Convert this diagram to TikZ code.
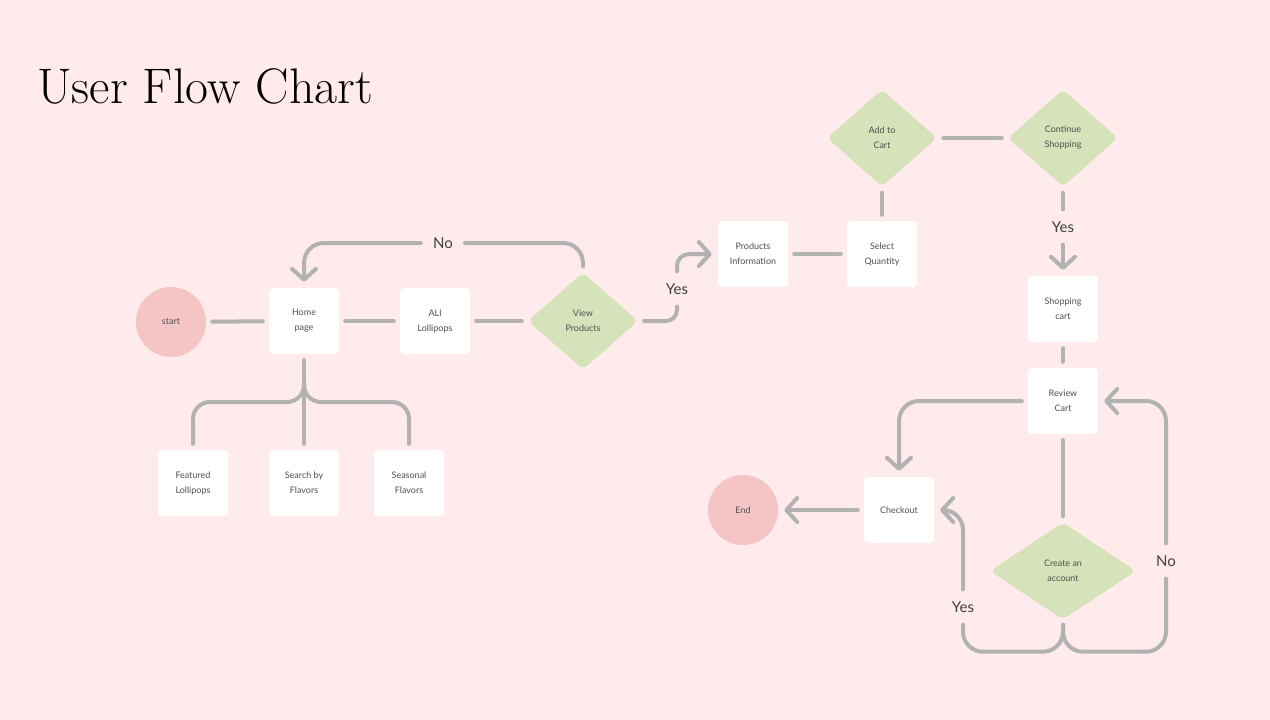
\documentclass[tikz,border=0pt]{standalone}
\usepackage{fontspec}
\setsansfont{Lato}
\usetikzlibrary{arrows.meta,shapes.geometric}
\definecolor{bg}{RGB}{255,235,235}
\definecolor{pinkc}{RGB}{245,196,196}
\definecolor{greenc}{RGB}{214,226,185}
\definecolor{lg}{RGB}{178,178,178}
\definecolor{txt}{RGB}{80,80,80}
\begin{document}
\begin{tikzpicture}[x=1pt,y=-1pt,
  every node/.style={font=\sffamily\fontsize{9}{15}\selectfont, text=txt, align=center},
  box/.style={rectangle, fill=white, rounded corners=4pt, minimum width=70pt, minimum height=66pt, inner sep=0pt},
  circ/.style={circle, fill=pinkc, minimum size=70pt, inner sep=0pt},
  dia/.style={diamond, fill=greenc, rounded corners=6pt, minimum width=110pt, minimum height=97pt, inner sep=0pt},
  lbl/.style={font=\sffamily\fontsize{15}{18}\selectfont, text=black!75, inner sep=6pt},
  conn/.style={draw=lg, line width=4pt, line cap=round, shorten <=6pt, shorten >=6pt},
  arr/.style={conn, -{Straight Barb[length=11pt,width=24pt,round]}}]
\useasboundingbox (0,0) rectangle (1270,720);
\fill[bg] (0,0) rectangle (1270,720);

\node[anchor=base west, inner sep=0pt, font=\rmfamily\fontsize{50}{52}\selectfont, text=black] (title) at (37,103) {User Flow Chart};

% nodes
\node[circ] (start) at (171,322) {start};
\node[box] (home) at (304,321) {Home\\page};
\node[box] (all) at (435,321) {ALl\\Lollipops};
\node[dia] (view) at (583,321) {View\\Products};
\node[box] (feat) at (193,483) {Featured\\Lollipops};
\node[box] (srch) at (304,483) {Search by\\Flavors};
\node[box] (seas) at (409,483) {Seasonal\\Flavors};
\node[box] (pi) at (753,254) {Products\\Information};
\node[box] (qty) at (882,254) {Select\\Quantity};
\node[dia] (add) at (882,138) {Add to\\Cart};
\node[dia] (cont) at (1063,138) {Continue\\Shopping};
\node[box] (shop) at (1063,309) {Shopping\\cart};
\node[box] (rev) at (1063,401) {Review\\Cart};
\node[box] (chk) at (899,510) {Checkout};
\node[circ] (end) at (743,510) {End};
\node[dia, minimum width=146pt] (acc) at (1063,571) {Create an\\account};

% labels
\node[lbl] (no1) at (443,243) {No};
\node[lbl] (yes1) at (677,289) {Yes};
\node[lbl] (yes2) at (1063,227) {Yes};
\node[lbl] (yes3) at (963,607) {Yes};
\node[lbl] (no3) at (1166,561) {No};
\coordinate (hb) at (304,383);

% connectors
\draw[conn] (start) -- (home);
\draw[conn] (home) -- (all);
\draw[conn] (all) -- (view);
\draw[conn, rounded corners=20pt] (view.north) |- (no1.east);
\draw[arr, rounded corners=20pt] (no1.west) -| (home.north);
\draw[conn] (home.south) -- (srch.north);
\draw[conn, rounded corners=17pt, shorten <=0pt] (hb) |- ++(-40,19) -| (feat.north);
\draw[conn, rounded corners=17pt, shorten <=0pt] (hb) |- ++(40,19) -| (seas.north);
\draw[conn, rounded corners=11pt] (view.east) -| (yes1.south);
\draw[arr, rounded corners=12pt] (yes1.north) |- (pi.west);
\draw[conn] (pi) -- (qty);
\draw[conn] (qty.north) -- (add.south);
\draw[conn] (add) -- (cont);
\draw[conn] (cont.south) -- (yes2.north);
\draw[arr] (yes2.south) -- (shop.north);
\draw[conn] (shop.south) -- (rev.north);
\draw[arr, rounded corners=20pt] (rev.west) -| (chk.north);
\draw[arr] (chk.west) -- (end.east);
\draw[conn] (rev.south) -- (acc.north);
\draw[conn, rounded corners=20pt, shorten <=5pt] (acc.south) |- ++(-40,32) -| (yes3.south);
\draw[conn, rounded corners=20pt, shorten <=5pt] (acc.south) |- ++(40,32) -| (no3.south);
\draw[arr, rounded corners=20pt] (yes3.north) |- (chk.east);
\draw[arr, rounded corners=20pt] (no3.north) |- (rev.east);
\end{tikzpicture}
\end{document}
